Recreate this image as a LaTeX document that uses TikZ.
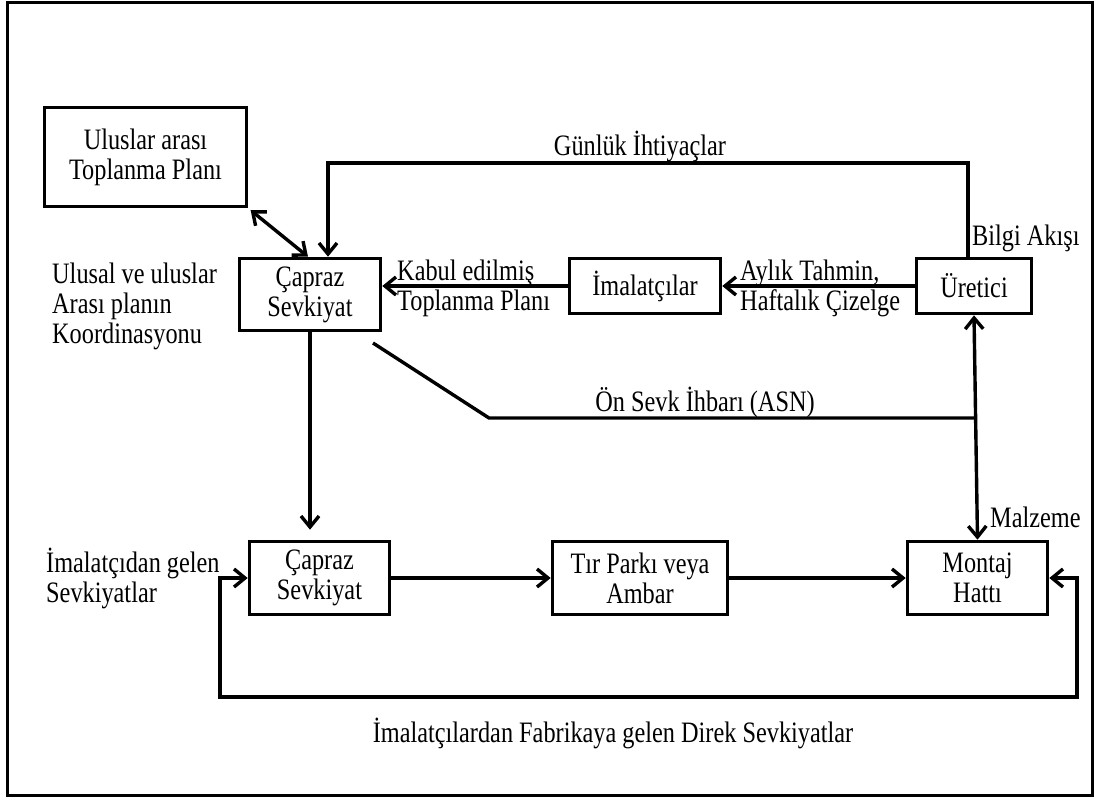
\documentclass[tikz,border=0pt]{standalone}
\usepackage{fontspec}
\setmainfont{Liberation Serif}
\usepackage{graphicx}
\usetikzlibrary{arrows.meta}
% slightly tall lettering
\newcommand\vs[1]{\scalebox{1}[1.22]{#1}}
\lineskiplimit=-100pt
\begin{document}
\begin{tikzpicture}[x=1pt,y=-1pt,
  every node/.style={font=\fontsize{24.3}{30}\selectfont, inner sep=0pt},
  box/.style={draw, line width=3.6pt, align=center},
  lbl/.style={align=left},
  link/.style={line width=3.4pt},
  >={Straight Barb[length=11pt,width=18pt]}]
\useasboundingbox (0,0) rectangle (1097,798);
\draw[line width=3pt] (7,2) rectangle (1092,795);

% boxes
\node[box, minimum width=202pt, minimum height=99pt] (b1) at (145.5,157) {\vs{Uluslar arası}\\\vs{Toplanma Planı}};
\node[box, minimum width=141pt, minimum height=72pt] (c1) at (310,294.5) {\vs{Çapraz}\\\vs{Sevkiyat}};
\node[box, minimum width=151pt, minimum height=55pt] (im) at (645,286) {\vs{İmalatçılar}};
\node[box, minimum width=115pt, minimum height=55pt] (ur) at (974,286) {\vs{Üretici}};
\node[box, minimum width=140pt, minimum height=73pt] (c2) at (319.5,578) {\vs{Çapraz}\\\vs{Sevkiyat}};
\node[box, minimum width=175pt, minimum height=73pt] (tp) at (640,578) {\vs{Tır Parkı veya}\\\vs{Ambar}};
\node[box, minimum width=140pt, minimum height=73pt] (mh) at (977.5,578) {\vs{Montaj}\\\vs{Hattı}};

% labels
\node[anchor=base] (lg) at (640,155) {\vs{Günlük İhtiyaçlar}};
\node[lbl, anchor=west] (lk) at (397,288) {\vs{Kabul edilmiş}\\\vs{Toplanma Planı}};
\node[lbl, anchor=west] (la) at (740,288) {\vs{Aylık Tahmin,}\\\vs{Haftalık Çizelge}};
\node[anchor=base west] (lb) at (972,245) {\vs{Bilgi Akışı}};
\node[lbl, anchor=west] (lu) at (52,306) {\vs{Ulusal ve uluslar}\\\vs{Arası planın}\\\vs{Koordinasyonu}};
\node[anchor=base] (ls) at (705,411) {\vs{Ön Sevk İhbarı (ASN)}};
\node[lbl, anchor=west] (li) at (46,578) {\vs{İmalatçıdan gelen}\\\vs{Sevkiyatlar}};
\node[anchor=base west] (lm) at (990,527) {\vs{Malzeme}};
\node[anchor=base] (ld) at (613,742) {\vs{İmalatçılardan Fabrikaya gelen Direk Sevkiyatlar}};

% corner points of the routed lines
\coordinate (gtop) at (648,163);
\coordinate (asnA) at (373,343);
\coordinate (asnB) at (489,418);
\coordinate (loopL) at (220,697);
\coordinate (loopR) at (1077,697);

% connectors
\draw[link, <->, shorten <=3pt] (b1.south east) -- ([xshift=-2pt]c1.north);
\draw[link, ->] ([xshift=-6pt]ur.north) |- (gtop) -| ([xshift=18pt]c1.north);
\draw[link, ->] (im.west) -- (im.west -| c1.east);
\draw[link, ->] (ur.west) -- (ur.west -| im.east);
\draw[link, <->] (ur.south) -- (mh.north);
\draw[link] (asnA) -- (asnB) -- (asnB -| ur.south);
\draw[link, ->] (c1.south) -- ([yshift=10pt]c2.north -| c1.south);
\draw[link, ->] (c2.east) -- (tp.west);
\draw[link, ->] (tp.east) -- (mh.west);
\draw[link, <->] (c2.west) -| (loopL) -- (loopR) |- (mh.east);
\end{tikzpicture}
\end{document}
